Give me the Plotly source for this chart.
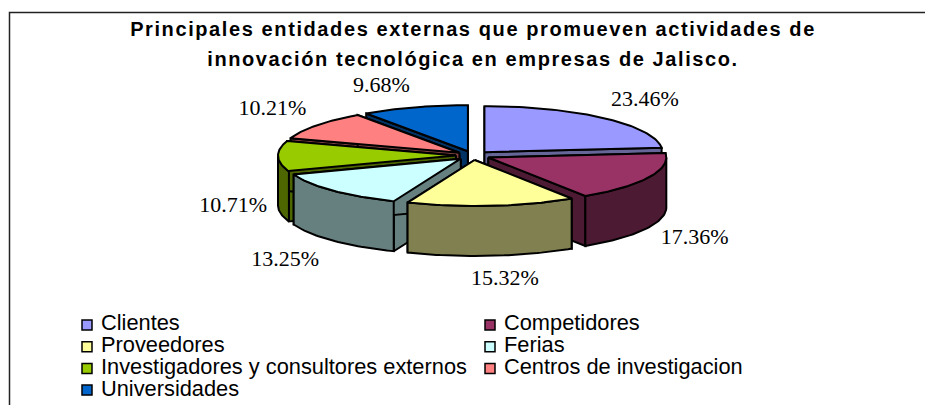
import math
import plotly.graph_objects as go

categories = ["Clientes", "Competidores", "Proveedores", "Ferias",
              "Investigadores y consultores externos", "Centros de investigacion", "Universidades"]
values = [23.46, 17.36, 15.32, 13.25, 10.71, 10.21, 9.68]
top_colors = ["#9999FF", "#993366", "#FFFF99", "#CCFFFF", "#99CC00", "#FF8080", "#0066CC"]
side_colors = ["#666699", "#4D1A33", "#808050", "#668080", "#4D6600", "#804040", "#003366"]
title_text = ("Principales entidades externas que promueven actividades de<br>"
              "innovación tecnológica en empresas de Jalisco.")

CX, CY, RX, RY, DEPTH = 473, 155.5, 178, 46, 50
EX, EY = 17, 4.5
LABEL_NUDGE_X = [2, -6, 8, -6, 13, 2, -16]
LABEL_NUDGE_Y = [0, 1, 0, 3, 0, -1, 2]

total = sum(values)
slices = []
acc = 0.0
for i, v in enumerate(values):
    a0 = acc / total * 2 * math.pi
    acc += v
    a1 = acc / total * 2 * math.pi
    mid = (a0 + a1) / 2
    ax = CX + EX * math.sin(mid)
    ay = CY - EY * math.cos(mid)
    slices.append(dict(i=i, a0=a0, a1=a1, mid=mid, ax=ax, ay=ay))

def rim(s, a):
    return s["ax"] + RX * math.sin(a), s["ay"] - RY * math.cos(a)

fig = go.Figure()

def poly(xs, ys, color):
    fig.add_trace(go.Scatter(x=xs, y=ys, mode="lines", fill="toself", fillcolor=color,
                             line=dict(color="black", width=2), showlegend=False, hoverinfo="skip"))

# back slices first
for s in sorted(slices, key=lambda t: -math.cos(t["mid"])):
    side = side_colors[s["i"]]
    top = top_colors[s["i"]]
    for a in (s["a0"], s["a1"]):
        x, y = rim(s, a)
        poly([s["ax"], x, x, s["ax"], s["ax"]],
             [s["ay"], y, y + DEPTH, s["ay"] + DEPTH, s["ay"]], side)
    lo = max(s["a0"], math.pi / 2)
    hi = min(s["a1"], 3 * math.pi / 2)
    if hi > lo:
        n = 40
        pts = [rim(s, lo + (hi - lo) * k / n) for k in range(n + 1)]
        xs = [p[0] for p in pts] + [p[0] for p in reversed(pts)] + [pts[0][0]]
        ys = [p[1] for p in pts] + [p[1] + DEPTH for p in reversed(pts)] + [pts[0][1]]
        poly(xs, ys, side)
    n = 60
    pts = [rim(s, s["a0"] + (s["a1"] - s["a0"]) * k / n) for k in range(n + 1)]
    poly([s["ax"]] + [p[0] for p in pts] + [s["ax"]], [s["ay"]] + [p[1] for p in pts] + [s["ay"]], top)

# data labels
lx, ly, lt = [], [], []
for s in slices:
    c = math.cos(s["mid"])
    lx.append(CX + 1.42 * RX * math.sin(s["mid"]) + LABEL_NUDGE_X[s["i"]])
    ly.append(CY - 1.62 * RY * c + (DEPTH if c < 0.0 else 0) + LABEL_NUDGE_Y[s["i"]])
    lt.append(f"{values[s['i']]:.2f}%")
fig.add_trace(go.Scatter(x=lx, y=ly, mode="text", text=lt, textposition="middle center",
                         textfont=dict(family="Liberation Serif", size=22, color="black"),
                         showlegend=False, hoverinfo="skip"))

# legend, two columns
LEG_X = [87, 490]
LEG_Y0, LEG_DY = 325, 21.7
for i, (name, col) in enumerate(zip(categories, top_colors)):
    sx = LEG_X[i % 2]
    sy = LEG_Y0 + LEG_DY * (i // 2)
    fig.add_trace(go.Scatter(x=[sx], y=[sy], mode="markers", name=name, showlegend=False,
                             marker=dict(symbol="square", size=10, color=col,
                                         line=dict(color="black", width=1.5))))
    fig.add_trace(go.Scatter(x=[sx + 14], y=[sy], mode="text", text=[name], textposition="middle right",
                             textfont=dict(family="Liberation Sans", size=21.8, color="black"),
                             showlegend=False, hoverinfo="skip"))

fig.update_layout(
    width=925, height=405, margin=dict(l=0, r=0, t=0, b=0),
    paper_bgcolor="white", plot_bgcolor="white", showlegend=False,
    xaxis=dict(range=[0, 925], visible=False, fixedrange=True),
    yaxis=dict(range=[405, 0], visible=False, fixedrange=True),
    title=dict(text=title_text, x=473 / 925, xanchor="center", y=1 - 20 / 405, yanchor="top",
               pad=dict(t=0, b=0),
               font=dict(family="Liberation Sans", size=20, color="black", weight="bold")),
    shapes=[dict(type="rect", x0=9.5, x1=940, y0=12.5, y1=420, xref="x", yref="y",
                 line=dict(color="#222222", width=1.5), fillcolor="rgba(0,0,0,0)", layer="below")],
)
post = """
document.body.style.margin = '0';
document.documentElement.style.overflow = 'hidden';
var t = document.querySelector('.gtitle');
if (t) {
  t.style.letterSpacing = '1.6px';
  var ls = t.querySelectorAll('tspan.line');
  if (ls.length > 1) { ls[1].setAttribute('dy', '30px'); }
  var tr = t.getAttribute('transform') || '';
  t.setAttribute('transform', tr + ' translate(0,16)');
}
"""
fig.write_html("out.html", config=dict(displayModeBar=False), post_script=post)
